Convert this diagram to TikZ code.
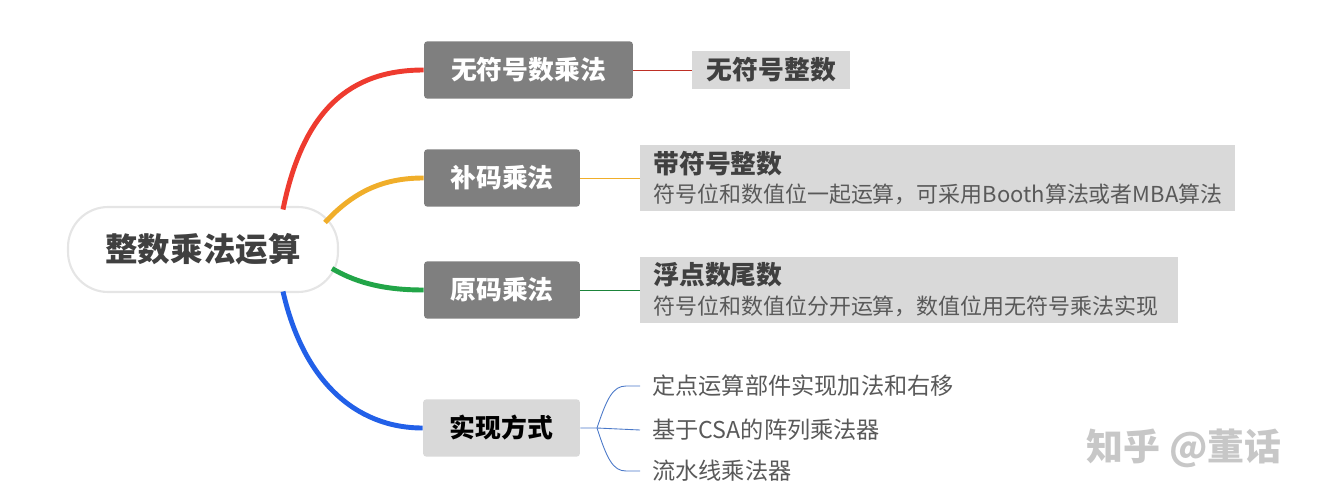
\documentclass[tikz,border=0pt]{standalone}
\usepackage{fontspec}
\setmainfont{Noto Sans CJK SC}
\usepackage{xcolor}
\usepackage{tikz}
\usetikzlibrary{positioning, calc}

\definecolor{boxdark}{HTML}{7F7F7F}
\definecolor{boxlight}{HTML}{D9D9D9}
\definecolor{txtdark}{HTML}{404040}
\definecolor{txtgray}{HTML}{595959}
\definecolor{brred}{HTML}{EE3B2F}
\definecolor{brorange}{HTML}{F0AE2A}
\definecolor{brgreen}{HTML}{22A548}
\definecolor{brblue}{HTML}{2260E8}
\definecolor{lnblue}{HTML}{4A78C8}

\begin{document}
\begin{tikzpicture}[x=0.02cm, y=-0.02cm,
    root/.style={draw=black!10, line width=1.2pt, fill=white, rounded corners=0.8cm,
      minimum width=5.4cm, minimum height=1.7cm, text=txtdark,
      font=\bfseries\fontsize{18.5}{22}\selectfont},
    dbox/.style={fill=boxdark, rounded corners=2pt, minimum height=1.15cm, text=white,
      font=\bfseries\fontsize{14.7}{18}\selectfont},
    lbox/.style={fill=boxlight, rounded corners=2pt, minimum height=1.15cm, text=black,
      font=\bfseries\fontsize{14.7}{18}\selectfont},
    tag/.style={fill=boxlight, anchor=west, inner xsep=0.26cm, text=txtdark},
    desc/.style={tag, text width=11.38cm, align=left, inner ysep=0.12cm,
      font=\fontsize{12.5}{17}\selectfont},
    leaf/.style={anchor=west, inner xsep=0.24cm, inner ysep=1pt, text=txtgray,
      font=\fontsize{13.2}{16}\selectfont},
    br/.style={line width=2.8pt},
    ln/.style={line width=0.5pt}]
  \useasboundingbox (0,0) rectangle (1321,500);

  \node[root] (r) at (203,249.5) {整数乘法运算};

  \node[dbox, minimum width=4.18cm] (u) at (528.5,70) {无符号数乘法};
  \node[dbox, minimum width=3.12cm] (c) at (502,178) {补码乘法};
  \node[dbox, minimum width=3.12cm] (o) at (502,290) {原码乘法};
  \node[lbox, minimum width=3.14cm] (m) at (501.5,428) {实现方式};

  \node[tag, minimum width=3.16cm, minimum height=0.78cm, align=left,
    font=\bfseries\fontsize{14.7}{18}\selectfont] (ut) at (692,70) {无符号整数};
  \node[desc, text width=11.38cm] (ct) at (640,178)
    {{\bfseries\fontsize{14.7}{18}\selectfont 带符号整数}\\
     {\color{txtgray}符号位和数值位一起运算，可采用Booth算法或者MBA算法}};
  \node[desc, text width=10.24cm] (ot) at (640,290)
    {{\bfseries\fontsize{14.7}{18}\selectfont 浮点数尾数}\\
     {\color{txtgray}符号位和数值位分开运算，数值位用无符号乘法实现}};

  \node[leaf] (m1) at (640,386) {定点运算部件实现加法和右移};
  \node[leaf] (m2) at (640,430) {基于CSA的阵列乘法器};
  \node[leaf] (m3) at (640,471) {流水线乘法器};

  % thick branches from the root
  \draw[br, brred] ($(r.center)+(80,-40)$) .. controls (303,110) and (350,70) .. (u.west);
  \draw[br, brorange] ($(r.center)+(122,-27)$) .. controls (355,190) and (385,178) .. (c.west);
  \draw[br, brgreen] ($(r.center)+(129,19)$) .. controls (360,285) and (390,290) .. (o.west);
  \draw[br, brblue] ($(r.center)+(80,42)$) .. controls (303,380) and (355,428) .. (m.west);

  % thin links to the details
  \draw[ln, brred!80!black] (u.east) -- (ut.west);
  \draw[ln, brorange] (c.east) -- (ct.west);
  \draw[ln, brgreen!80!black] (o.east) -- (ot.west);

  \coordinate (mj) at (597,428);
  \draw[ln, lnblue] (m.east) -- (mj) -- (m2.west);
  \draw[ln, lnblue] (mj) .. controls (607,398) and (613,386) .. (626,386) -- (m1.west);
  \draw[ln, lnblue] (mj) .. controls (607,459) and (613,471) .. (626,471) -- (m3.west);

  \node[text=black!22, font=\bfseries\fontsize{21}{24}\selectfont] (wm) at (1184,448) {知乎 @董话};
\end{tikzpicture}
\end{document}
